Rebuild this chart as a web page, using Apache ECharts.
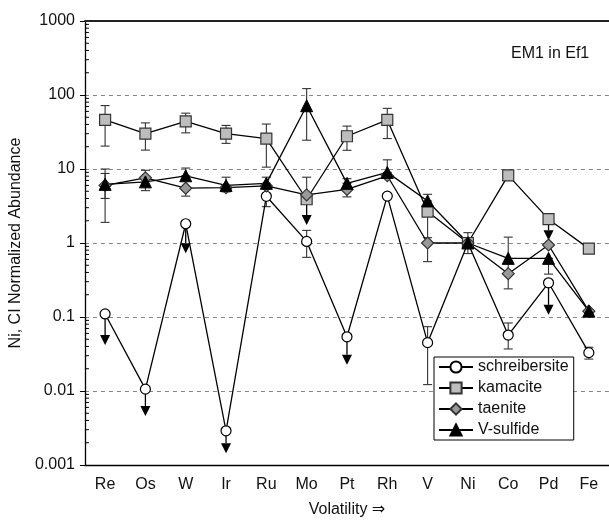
<!DOCTYPE html>
<html><head><meta charset="utf-8">
<script src="https://cdn.jsdelivr.net/npm/echarts@6.0.0/dist/echarts.min.js"></script>
<style>html,body{margin:0;padding:0;background:#fff}#c{width:609px;height:523px}</style>
</head><body><div id="c"></div>
<script>
const categories = ['Re','Os','W','Ir','Ru','Mo','Pt','Rh','V','Ni','Co','Pd','Fe'];
const yTickLabels = ['0.001','0.01','0.1','1','10','100','1000'];
const schreibersite = [0.11, 0.0106, 1.82, 0.0029, 4.28, 1.05, 0.054, 4.3, 0.045, 1.0, 0.057, 0.29, 0.033];
const kamacite = [46, 30, 44, 30, 25.8, 3.9, 27.7, 46, 2.66, 1.0, 8.2, 2.1, 0.84];
const taenite = [6.0, 7.6, 5.5, 5.6, 5.9, 4.47, 5.3, 8.1, 1.0, 1.0, 0.385, 0.94, 0.12];
const vsulfide = [6.2, 6.7, 8.1, 6.0, 6.4, 71.6, 6.4, 9.0, 3.7, 1.0, 0.62, 0.62, 0.12];
// error bars: [category index, low, high]
const schreibersiteErr = [[4, 3.1, 4.28], [5, 0.64, 1.48], [8, 0.0122, 0.074], [10, 0.037, 0.083], [12, 0.027, 0.039]];
const kamaciteErr = [[0, 20.4, 72], [1, 18, 42], [2, 30.8, 56.8], [3, 22.2, 38.8], [4, 10.6, 40.5], [6, 17.9, 38], [7, 25.8, 66], [8, 1.0, 2.66]];
const taeniteErr = [[0, 4.0, 8.7], [2, 4.3, 5.5], [3, 4.9, 5.6], [5, 4.47, 7.75], [6, 4.2, 5.3], [8, 0.56, 1.18], [10, 0.24, 1.2]];
const vsulfideErr = [[0, 1.9, 10], [1, 5.1, 9.6], [2, 8.1, 10.3], [3, 6.0, 7.75], [4, 6.4, 7.75], [5, 24.5, 122], [6, 6.4, 7.4], [7, 9.0, 13.3], [8, 3.7, 4.55], [9, 0.72, 1.38], [11, 0.38, 0.62]];
// upper-limit arrows: [category index, from value, arrow tip value]
const schreibersiteLimits = [[0, 0.11, 0.042], [1, 0.0106, 0.0046], [2, 1.82, 0.725], [3, 0.0029, 0.00144], [6, 0.054, 0.0226], [11, 0.29, 0.107]];
const kamaciteLimits = [[5, 3.9, 1.75], [11, 2.1, 1.09]];

const minorTicks = [];
for (let k = -3; k < 3; k++) for (let m = 2; m <= 9; m++) minorTicks.push([0, +(m * Math.pow(10, k)).toPrecision(3)]);

const FONT = "'Liberation Sans', Arial, 'DejaVu Sans', sans-serif";
const chart = echarts.init(document.getElementById('c'), null, {renderer: 'canvas'});

function errRender(params, api) {
  const x = api.value(0);
  const lo = api.coord([x, api.value(1)]);
  const hi = api.coord([x, api.value(2)]);
  const w = 4.5;
  const st = {stroke: '#333', lineWidth: 1.1};
  return {type: 'group', children: [
    {type: 'line', shape: {x1: lo[0], y1: lo[1], x2: hi[0], y2: hi[1]}, style: st},
    {type: 'line', shape: {x1: lo[0] - w, y1: lo[1], x2: lo[0] + w, y2: lo[1]}, style: st},
    {type: 'line', shape: {x1: hi[0] - w, y1: hi[1], x2: hi[0] + w, y2: hi[1]}, style: st}
  ]};
}
function arrowRender(params, api) {
  const x = api.value(0);
  const a = api.coord([x, api.value(1)]);
  const t = api.coord([x, api.value(2)]);
  const h = 10, hw = 5;
  return {type: 'group', children: [
    {type: 'line', shape: {x1: a[0], y1: a[1], x2: t[0], y2: t[1] - h}, style: {stroke: '#000', lineWidth: 1.3}},
    {type: 'polygon', shape: {points: [[t[0] - hw, t[1] - h], [t[0] + hw, t[1] - h], [t[0], t[1]]]}, style: {fill: '#000'}}
  ]};
}
function minorRender(params, api) {
  const p = api.coord([0, api.value(1)]);
  const x0 = params.coordSys.x;
  return {type: 'line', shape: {x1: x0, y1: p[1], x2: x0 + 4, y2: p[1]}, style: {stroke: '#000', lineWidth: 1}};
}
function errSeries(data) {
  return {type: 'custom', renderItem: errRender, data: data, encode: {x: 0, y: [1, 2]}, z: 1, silent: true};
}
function arrowSeries(data) {
  return {type: 'custom', renderItem: arrowRender, data: data, encode: {x: 0, y: [1, 2]}, z: 2, silent: true};
}
const lineStyle = {color: '#000', width: 1.3};

chart.setOption({
  animation: false,
  backgroundColor: '#fff',
  textStyle: {fontFamily: FONT},
  title: {text: 'EM1 in Ef1', left: 506, top: 41, textStyle: {fontSize: 16, fontWeight: 'normal', color: '#111', fontFamily: FONT}},
  grid: {left: 80, top: 21, width: 531, height: 451},
  legend: {
    orient: 'vertical', left: 434, top: 357,
    data: ['schreibersite', 'kamacite', 'taenite', 'V-sulfide'],
    backgroundColor: '#fff', borderColor: '#000', borderWidth: 1,
    padding: [2, 5, 2, 4], itemWidth: 34, itemHeight: 14, itemGap: 5,
    textStyle: {fontSize: 16, color: '#111', fontFamily: FONT}
  },
  xAxis: [{
    type: 'category', data: categories, position: 'bottom',
    name: 'Volatility \u21D2', nameLocation: 'middle', nameGap: 37,
    nameTextStyle: {fontSize: 16, color: '#111', fontFamily: FONT},
    axisLine: {lineStyle: {color: '#000', width: 1.3}},
    axisTick: {inside: true, length: 6, lineStyle: {color: '#000'}},
    axisLabel: {fontSize: 16, color: '#111', margin: 12, fontFamily: FONT},
    splitLine: {show: false}
  }, {
    type: 'category', data: categories, position: 'top',
    axisLine: {lineStyle: {color: '#222', width: 2}},
    axisTick: {show: false}, axisLabel: {show: false}, splitLine: {show: false}
  }],
  yAxis: {
    type: 'log', logBase: 10, min: 0.001, max: 1000, splitNumber: 6,
    name: 'Ni, CI Normalized Abundance', nameLocation: 'middle', nameGap: 57,
    nameTextStyle: {fontSize: 16, color: '#111', fontFamily: FONT},
    axisLine: {show: true, lineStyle: {color: '#000', width: 1.3}},
    axisTick: {show: true, inside: false, length: 5, lineStyle: {color: '#000'}},
    axisLabel: {fontSize: 16, color: '#111', margin: 10, fontFamily: FONT,
      formatter: function (v) { const i = Math.round(Math.log10(v)) + 3; return yTickLabels[i] !== undefined ? yTickLabels[i] : ''; }},
    splitLine: {show: true, lineStyle: {color: '#888', type: [4, 4], width: 1}}
  },
  series: [
    {type: 'custom', renderItem: minorRender, data: minorTicks, encode: {x: 0, y: 1}, z: 5, silent: true, clip: false},
    errSeries(schreibersiteErr), errSeries(kamaciteErr), errSeries(taeniteErr), errSeries(vsulfideErr),
    arrowSeries(schreibersiteLimits), arrowSeries(kamaciteLimits),
    {name: 'schreibersite', type: 'line', data: schreibersite, symbol: 'circle', symbolSize: 10, z: 3,
      lineStyle: lineStyle, itemStyle: {color: '#fff', borderColor: '#000', borderWidth: 1.2}},
    {name: 'kamacite', type: 'line', data: kamacite, symbol: 'rect', symbolSize: 11, z: 3,
      lineStyle: lineStyle, itemStyle: {color: '#bdbdbd', borderColor: '#333', borderWidth: 1.2}},
    {name: 'taenite', type: 'line', data: taenite, symbol: 'diamond', symbolSize: 12, z: 3,
      lineStyle: lineStyle, itemStyle: {color: '#999', borderColor: '#333', borderWidth: 1.2}},
    {name: 'V-sulfide', type: 'line', data: vsulfide, symbol: 'triangle', symbolSize: 12, z: 3,
      lineStyle: lineStyle, itemStyle: {color: '#000', borderColor: '#000', borderWidth: 1}}
  ]
});
</script>
</body></html>
